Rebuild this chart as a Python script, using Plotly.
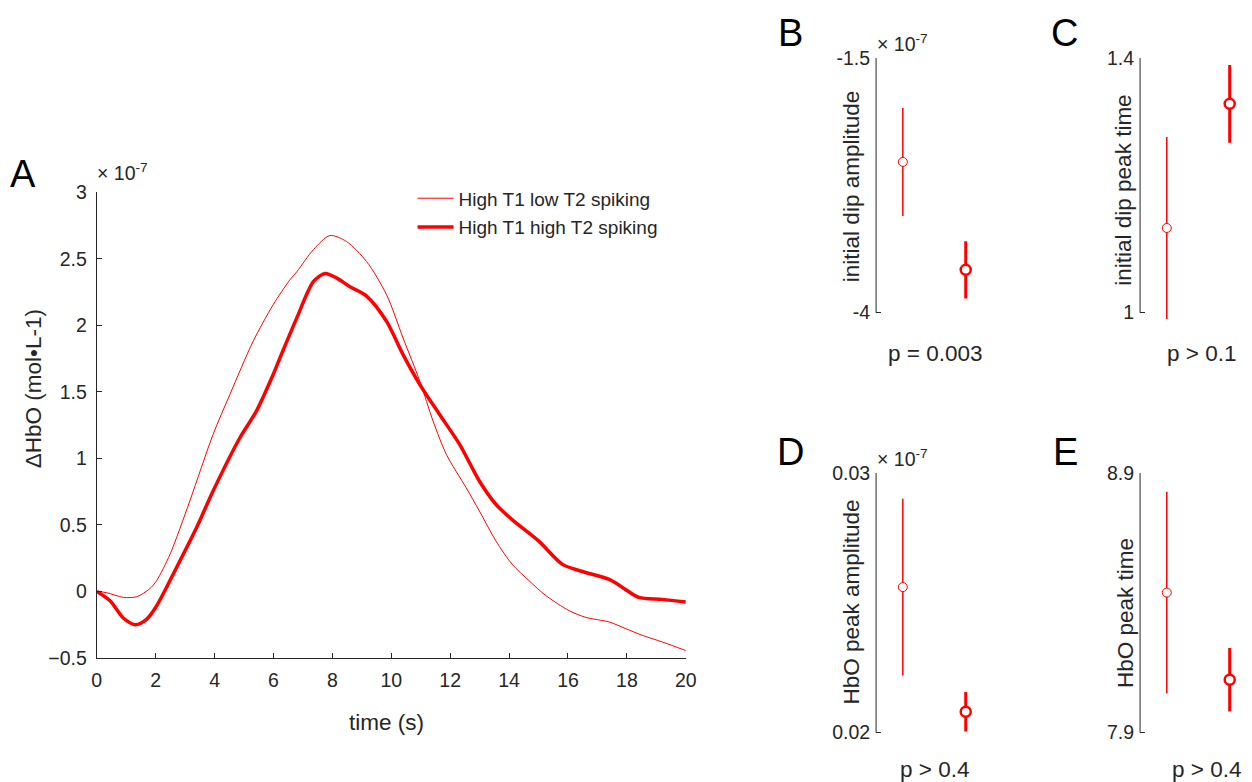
import plotly.graph_objects as go

# figure size (slightly larger than the window; positions below are given in
# window/photo pixels and converted with a measured linear mapping)
W, H = 1270, 800
AX, BX = 0.989, 4.8
AY, BY = 0.974, 9.4

# ---------------- data ----------------
# Panel A: HbO time courses, values in units of 1e-7 mol/L
t_low = [0, 0.34, 0.9, 1.36, 1.8, 2.03, 2.49, 3.16, 3.95, 4.52, 5.31, 5.99, 6.55, 6.8, 7.36, 7.92,
         8.48, 9.16, 9.84, 10.4, 10.97, 11.42, 11.87, 12.54, 12.99, 13.55, 14.1, 14.68, 15.24,
         16.04, 16.6, 17.4, 17.96, 18.52, 19.2, 20]
hbo_low = [0, -0.01, -0.045, -0.04, 0.02, 0.08, 0.28, 0.68, 1.18, 1.48, 1.88, 2.155, 2.34, 2.405,
           2.57, 2.675, 2.63, 2.48, 2.23, 1.905, 1.58, 1.28, 1.03, 0.78, 0.605, 0.38, 0.205, 0.08,
           -0.03, -0.145, -0.195, -0.23, -0.28, -0.33, -0.38, -0.445]
t_high = [0, 0.45, 0.9, 1.3, 1.69, 2.03, 2.71, 3.39, 3.95, 4.86, 5.42, 5.99, 6.23, 6.55, 6.8, 7.36,
          7.75, 8.15, 8.6, 9.16, 9.84, 10.4, 10.97, 11.64, 12.32, 12.99, 13.55, 14.1, 15.0, 15.8,
          16.4, 17.4, 17.85, 18.4, 19.2, 20]
hbo_high = [0, -0.07, -0.2, -0.25, -0.21, -0.11, 0.18, 0.48, 0.755, 1.155, 1.355, 1.63, 1.76, 1.93,
            2.06, 2.33, 2.39, 2.355, 2.29, 2.22, 2.03, 1.78, 1.555, 1.33, 1.105, 0.83, 0.655, 0.54,
            0.38, 0.205, 0.155, 0.09, 0.03, -0.045, -0.06, -0.08]
series_names = ["High T1 low T2 spiking", "High T1 high T2 spiking"]

# Panels B-E: group means and errors (group 1 = low T2, group 2 = high T2)
groups = [1, 2]
dip_amp_mean = [-2.52, -3.58]      # x 1e-7
dip_amp_err = [0.53, 0.28]
dip_time_mean = [1.133, 1.328]
dip_time_err = [0.143, 0.061]
peak_amp_mean = [0.0256, 0.0208]   # x 1e-7
peak_amp_err = [0.0034, 0.00076]
peak_time_mean = [8.439, 8.103]
peak_time_err = [0.388, 0.122]

x_ticks_A = list(range(0, 21, 2))
y_ticks_A = [-0.5, 0, 0.5, 1, 1.5, 2, 2.5, 3]

# ---------------- helpers (photo pixel -> paper fraction) ----------------
def fx(px):
    return ((px - BX) / AX) / W

def fy(py):
    return 1 - ((py - BY) / AY) / H

TXT = "#262626"
FONT = "Liberation Sans, Arial, sans-serif"
RED = "#ff0000"
TICKFONT = dict(size=19.5, color=TXT, family=FONT)

fig = go.Figure()

# Panel A
fig.add_trace(go.Scatter(x=t_low, y=hbo_low, mode="lines", name=series_names[0],
                         line=dict(color=RED, width=1, shape="spline", smoothing=0.8),
                         xaxis="x", yaxis="y", legendgroup="a"))
fig.add_trace(go.Scatter(x=t_high, y=hbo_high, mode="lines", name=series_names[1],
                         line=dict(color=RED, width=3.5, shape="spline", smoothing=0.8),
                         xaxis="x", yaxis="y", legendgroup="b"))

layout_axes = {}
layout_axes["xaxis"] = dict(domain=[fx(96.7), fx(686.7)], range=[0, 20], anchor="y",
                            tickvals=x_ticks_A, ticks="inside", ticklen=5, tickcolor=TXT,
                            showline=True, linecolor=TXT, linewidth=1, showgrid=False,
                            zeroline=False, tickfont=TICKFONT, ticklabelstandoff=5)
layout_axes["yaxis"] = dict(domain=[fy(657.3), fy(191)], range=[-0.5, 3], anchor="x",
                            tickvals=y_ticks_A, ticks="inside", ticklen=5, tickcolor=TXT,
                            showline=True, linecolor=TXT, linewidth=1, showgrid=False,
                            zeroline=False, tickfont=TICKFONT, ticklabelstandoff=5)

shapes = []
# small panels: (axis index, left px, top px, bottom px, lo, hi, tick labels, means, errs)
small = [
    (2, 877.3, 56.5, 311.5, -4.0, -1.5, ["-4", "-1.5"], dip_amp_mean, dip_amp_err),
    (3, 1141.7, 56.5, 311.5, 1.0, 1.4, ["1", "1.4"], dip_time_mean, dip_time_err),
    (4, 877.3, 472.0, 732.0, 0.02, 0.03, ["0.02", "0.03"], peak_amp_mean, peak_amp_err),
    (5, 1141.7, 472.0, 732.0, 7.9, 8.9, ["7.9", "8.9"], peak_time_mean, peak_time_err),
]
XR = [0.575, 2.3]
PXU = 63
for idx, left, top, bot, lo, hi, labels, means, errs in small:
    xn, yn = f"x{idx}", f"y{idx}"
    pad = 0.04
    span = hi - lo
    pspan = bot - top
    layout_axes[f"xaxis{idx}"] = dict(domain=[fx(left), min(1.0, fx(left + (XR[1] - XR[0]) * PXU))],
                                      range=XR, anchor=yn, visible=False)
    layout_axes[f"yaxis{idx}"] = dict(domain=[fy(bot + pad * pspan), fy(top)],
                                      range=[lo - pad * span, hi], anchor=xn,
                                      tickvals=[lo, hi], ticktext=labels, ticks="inside",
                                      ticklen=5, tickcolor=TXT, showline=False, showgrid=False,
                                      zeroline=False, tickfont=TICKFONT, ticklabelstandoff=5)
    shapes.append(dict(type="line", xref=f"{xn} domain", yref=yn, x0=0, x1=0, y0=lo, y1=hi,
                       line=dict(color=TXT, width=1)))
    for i in range(2):
        thick = i == 1
        fig.add_trace(go.Scatter(
            x=[groups[i]], y=[means[i]], mode="markers", showlegend=False,
            xaxis=xn, yaxis=yn, cliponaxis=False,
            error_y=dict(type="data", array=[errs[i]], width=0,
                         thickness=3 if thick else 1.5, color=RED),
            marker=dict(symbol="circle", size=10 if thick else 9, color="white",
                        line=dict(color=RED, width=2.5 if thick else 1)),
        ))

annotations = []
def ann(text, x, y, size, color=TXT, xanchor="center", yanchor="middle", angle=0):
    annotations.append(dict(text=text, x=fx(x), y=fy(y), xref="paper", yref="paper",
                            showarrow=False, xanchor=xanchor, yanchor=yanchor,
                            textangle=angle, font=dict(size=size, color=color, family=FONT)))

# panel letters
ann("A", 23, 173, 38, "#000000")
ann("B", 792, 31, 38, "#000000")
ann("C", 1066, 31, 38, "#000000")
ann("D", 792, 451, 38, "#000000")
ann("E", 1067, 451, 38, "#000000")

# exponent labels
ann("× 10<sup>-7</sup>", 95, 185, 19.5, xanchor="left", yanchor="bottom")
ann("× 10<sup>-7</sup>", 876, 55, 19.5, xanchor="left", yanchor="bottom")
ann("× 10<sup>-7</sup>", 876, 471, 19.5, xanchor="left", yanchor="bottom")

# axis titles
ann("ΔHbO (mol•L-1)", 33, 388, 22.5, angle=-90)
ann("time (s)", 387, 722, 22.5)
ann("initial dip amplitude", 853, 185, 22.5, angle=-90)
ann("initial dip peak time", 1125, 189, 22.5, angle=-90)
ann("HbO peak amplitude", 853, 601, 22.5, angle=-90)
ann("HbO peak time", 1127, 612, 22.5, angle=-90)

# p values
ann("p = 0.003", 936, 352, 22.5)
ann("p > 0.1", 1203, 352, 22.5)
ann("p > 0.4", 936, 769, 22.5)
ann("p > 0.4", 1208, 769, 22.5)

fig.update_layout(
    width=W, height=H, margin=dict(l=0, r=0, t=0, b=0),
    paper_bgcolor="white", plot_bgcolor="white",
    font=dict(family=FONT, color=TXT),
    showlegend=True,
    legend=dict(x=fx(413), y=fy(178), xanchor="left", yanchor="top",
                bgcolor="rgba(0,0,0,0)", font=dict(size=19, color=TXT, family=FONT),
                tracegroupgap=1, itemwidth=36),
    shapes=shapes, annotations=annotations,
    **layout_axes,
)

fig.write_html("out.html")
